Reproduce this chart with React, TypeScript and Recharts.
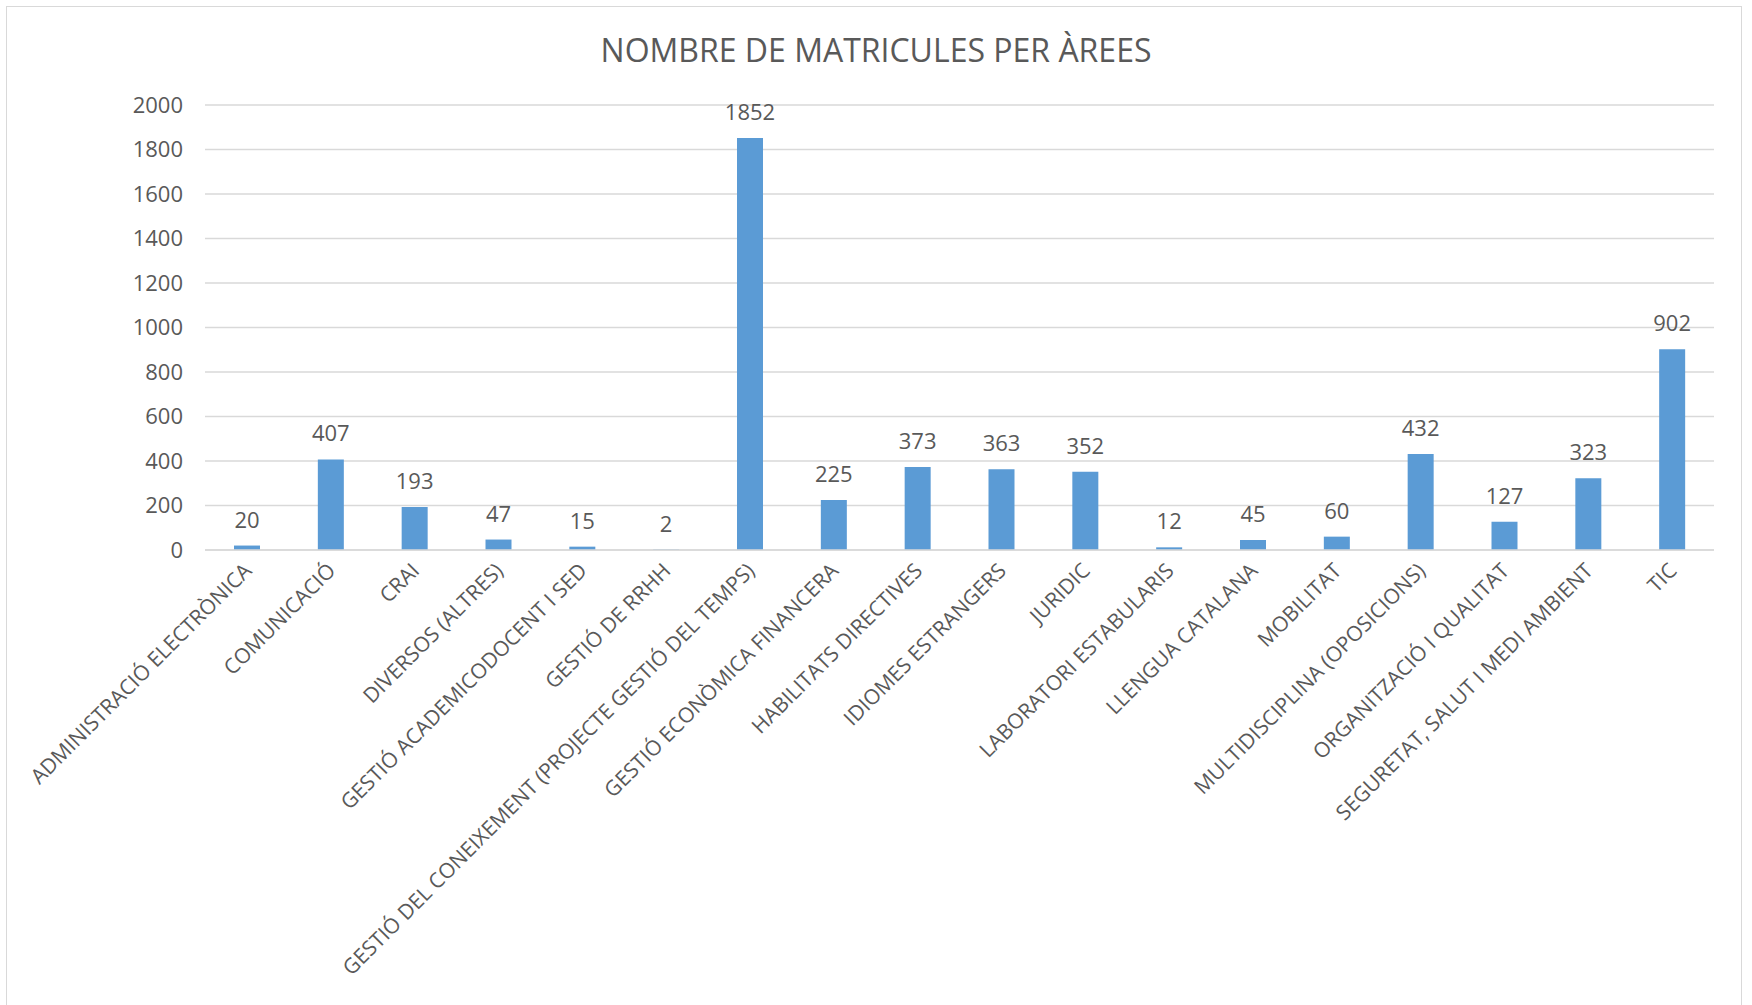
import React from "react";
import { BarChart, Bar, XAxis, YAxis, CartesianGrid, LabelList } from "recharts";

const areas = [
  "ADMINISTRACIÓ ELECTRÒNICA",
  "COMUNICACIÓ",
  "CRAI",
  "DIVERSOS (ALTRES)",
  "GESTIÓ ACADEMICODOCENT I SED",
  "GESTIÓ DE RRHH",
  "GESTIÓ DEL CONEIXEMENT (PROJECTE GESTIÓ DEL TEMPS)",
  "GESTIÓ ECONÒMICA FINANCERA",
  "HABILITATS DIRECTIVES",
  "IDIOMES ESTRANGERS",
  "JURIDIC",
  "LABORATORI ESTABULARIS",
  "LLENGUA CATALANA",
  "MOBILITAT",
  "MULTIDISCIPLINA (OPOSICIONS)",
  "ORGANITZACIÓ I QUALITAT",
  "SEGURETAT, SALUT I MEDI AMBIENT",
  "TIC",
];

const matricules = [20, 407, 193, 47, 15, 2, 1852, 225, 373, 363, 352, 12, 45, 60, 432, 127, 323, 902];

const yTicks = [0, 200, 400, 600, 800, 1000, 1200, 1400, 1600, 1800, 2000];

const data = areas.map((area, i) => ({ area, value: matricules[i] }));

const FONT = "'Open Sans', sans-serif";
const TEXT = "#595959";
const GRID = "#D9D9D9";

function AreaTick(props: any) {
  const { x, y, payload } = props;
  return (
    <g transform={`translate(${x + 6},${y + 14}) rotate(-45)`}>
      <text x={0} y={0} textAnchor="end" fill={TEXT} fontSize={21} fontFamily={FONT}>
        {payload.value}
      </text>
    </g>
  );
}

export default function App() {
  return (
    <div style={{ position: "absolute", left: 0, top: 0, width: 1752, height: 1005, background: "#fff" }}>
      <div
        style={{
          position: "absolute",
          left: 6,
          top: 6,
          width: 1736,
          height: 1010,
          border: `1.5px solid ${GRID}`,
          boxSizing: "border-box",
        }}
      />
      <div
        style={{
          position: "absolute",
          left: 0,
          width: 1752,
          top: 26,
          textAlign: "center",
          fontFamily: FONT,
          fontSize: 32,
          color: TEXT,
          lineHeight: "48px",
        }}
      >
        NOMBRE DE MATRICULES PER ÀREES
      </div>
      <div style={{ position: "absolute", left: 0, top: 0 }}>
        <BarChart
          width={1752}
          height={1005}
          data={data}
          margin={{ top: 105, right: 38, bottom: 0, left: 0 }}
          barCategoryGap={0}
        >
          <CartesianGrid vertical={false} stroke={GRID} strokeWidth={1.5} />
          <XAxis
            dataKey="area"
            interval={0}
            height={455}
            tick={<AreaTick />}
            tickLine={false}
            axisLine={{ stroke: GRID, strokeWidth: 1.5 }}
          />
          <YAxis
            width={205}
            domain={[0, 2000]}
            ticks={yTicks}
            axisLine={false}
            tickLine={false}
            tickSize={0}
            tickMargin={22}
            tick={{ fill: TEXT, fontSize: 22, fontFamily: FONT }}
          />
          <Bar dataKey="value" fill="#5B9BD5" barSize={26} isAnimationActive={false}>
            <LabelList
              dataKey="value"
              position="top"
              offset={18}
              fill={TEXT}
              fontSize={22}
              fontFamily={FONT}
            />
          </Bar>
        </BarChart>
      </div>
    </div>
  );
}
